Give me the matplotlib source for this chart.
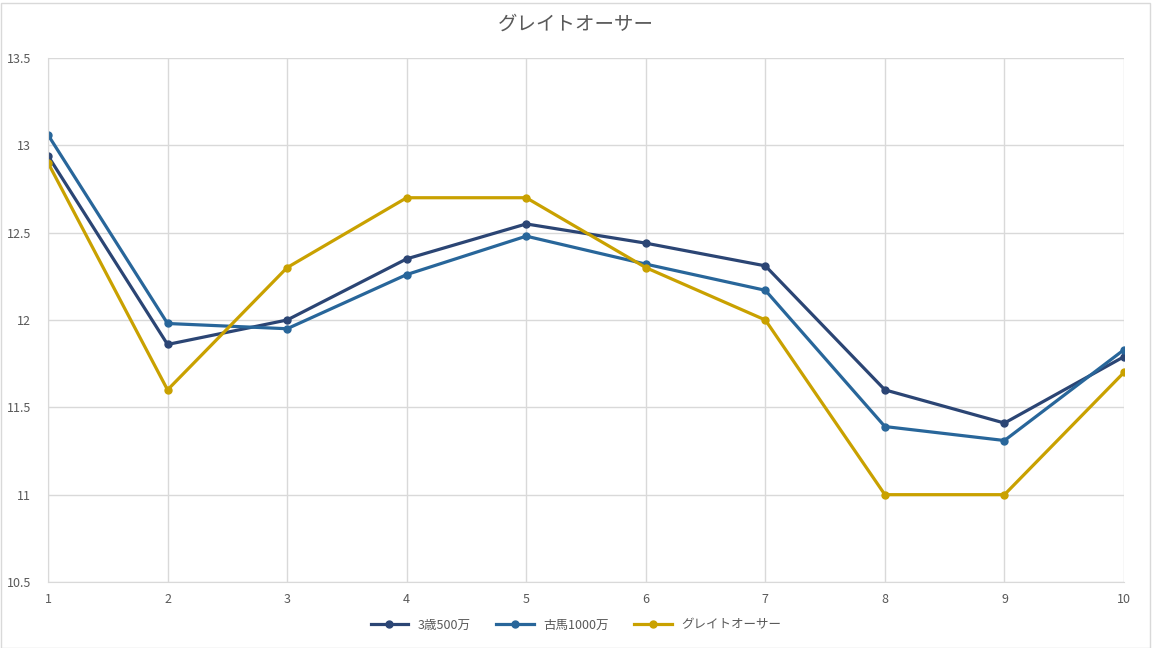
import matplotlib
matplotlib.use("Agg")
import matplotlib.pyplot as plt

plt.rcParams['font.family'] = ['Noto Sans CJK JP', 'DejaVu Sans']

x_values = [1, 2, 3, 4, 5, 6, 7, 8, 9, 10]
series_names = ["3歳500万", "古馬1000万", "グレイトオーサー"]
s_3sai = [12.94, 11.86, 12.00, 12.35, 12.55, 12.44, 12.31, 11.60, 11.41, 11.79]
s_koba = [13.06, 11.98, 11.95, 12.26, 12.48, 12.32, 12.17, 11.39, 11.31, 11.83]
s_great = [12.90, 11.60, 12.30, 12.70, 12.70, 12.30, 12.00, 11.00, 11.00, 11.70]
y_ticks = [10.5, 11, 11.5, 12, 12.5, 13, 13.5]
title = "グレイトオーサー"

colors = ["#2B4574", "#28669A", "#C9A100"]

fig = plt.figure(figsize=(11.52, 6.48), dpi=100)
ax = fig.add_axes([48/1152, 1 - 582/648, (1124-48)/1152, (582-58)/648])

for ys, name, c in zip([s_3sai, s_koba, s_great], series_names, colors):
    ax.plot(x_values, ys, color=c, lw=2.3, marker='o', markersize=5, label=name)

ax.set_xlim(1, 10)
ax.set_ylim(10.5, 13.5)
ax.set_xticks(x_values)
ax.set_xticklabels([str(v) for v in x_values])
ax.set_yticks(y_ticks)
ax.set_yticklabels([f"{v:g}" for v in y_ticks])
ax.grid(True, color="#D9D9D9", lw=1)
ax.set_axisbelow(True)
for s in ['top', 'right']:
    ax.spines[s].set_visible(False)
for s in ['left', 'bottom']:
    ax.spines[s].set_color("#D9D9D9")
ax.tick_params(length=0, labelsize=9, colors="#595959")
ax.tick_params(axis='y', pad=12)
ax.tick_params(axis='x', pad=8)

fig.text(0.5, 1 - 24/648, title, ha='center', va='center', fontsize=14, color="#595959")
fig.legend(loc='center', bbox_to_anchor=(0.5, 1 - 625/648), ncol=3, frameon=False,
           fontsize=9, labelcolor="#595959", handlelength=3, columnspacing=2)

border = plt.Rectangle((0.5/1152, 0.5/648), 1 - 1/1152 - 2/1152, 1 - 1/648 - 2/648,
                       transform=fig.transFigure, fill=False, edgecolor="#D9D9D9", lw=1)
fig.patches.append(border)

fig.savefig("out.png", dpi=100)
